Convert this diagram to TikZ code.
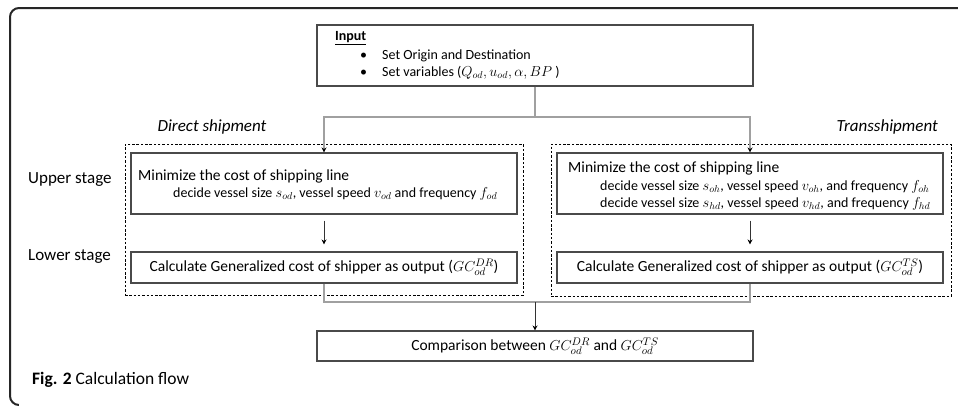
\documentclass[tikz,border=0pt]{standalone}
\usepackage{fontspec}
\setmainfont{Carlito}
\usetikzlibrary{arrows.meta}
\definecolor{boxgray}{HTML}{4A4A4A}
\definecolor{linegray}{HTML}{A0A0A0}
\begin{document}
\begin{tikzpicture}[x=1pt,y=-1pt,
  box/.style={draw=boxgray,line width=1.1pt,inner sep=0pt},
  dbox/.style={draw=black,dash pattern=on 2.5pt off 1.8pt,line width=0.9pt,inner sep=0pt},
  conn/.style={draw=linegray,line width=1.1pt},
  darrow/.style={draw=black!80,line width=0.8pt,-{Stealth[length=5pt,width=5pt,color=black]}},
  garrow/.style={conn,-{Stealth[length=5pt,width=5pt,color=black]}},
  main/.style={font=\fontsize{15.5}{18}\selectfont,inner sep=0pt},
  small/.style={font=\fontsize{14}{16}\selectfont,inner sep=0pt},
  inp/.style={font=\fontsize{14}{17}\selectfont,inner sep=0pt},
  side/.style={font=\fontsize{17}{20}\selectfont,inner sep=0pt},
  frame/.style={draw=black!85,line width=2pt,rounded corners=9pt}]
\useasboundingbox (0,0) rectangle (958,407);
% outer frame
\draw[frame] (962,8) -- (10,8) -- (10,405) -- (30,405);
\fill[white] (19,403.9) rectangle (40,408);
% boxes
\node[box,minimum width=436pt,minimum height=61pt] (in) at (535,55.5) {};
\node[dbox,minimum width=398pt,minimum height=151pt] (dl) at (324,219.5) {};
\node[dbox,minimum width=400pt,minimum height=152pt] (dr) at (751,220) {};
\node[box,minimum width=386pt,minimum height=61pt] (lu) at (324,183.5) {};
\node[box,minimum width=386pt,minimum height=61pt] (ru) at (750,183.5) {};
\node[box,minimum width=386pt,minimum height=31pt] (ll) at (324,267.5) {};
\node[box,minimum width=386pt,minimum height=31pt] (rl) at (750,267.5) {};
\node[box,minimum width=436pt,minimum height=30pt] (cmp) at (535,346) {};
% input text
\node[inp,anchor=west,font=\fontsize{14}{17}\selectfont\bfseries] (inT) at (335,38) {\underline{Input}};
\node[inp,anchor=west] (b1) at (360,56) {•};
\node[inp,anchor=west] (t1) at (382,56) {Set Origin and Destination};
\node[inp,anchor=west] (b2) at (360,73) {•};
\node[inp,anchor=west] (t2) at (382,73) {Set variables ($Q_{od},u_{od},\alpha,BP$~)};
% labels
\node[side,anchor=center,font=\fontsize{17}{20}\selectfont\itshape] (ds) at (212,127) {Direct shipment};
\node[side,anchor=east,font=\fontsize{17}{20}\selectfont\itshape] (ts) at (938,127) {Transshipment};
\node[side,anchor=west] (us) at (28,180) {Upper stage};
\node[side,anchor=west] (ls) at (28,257) {Lower stage};
% left upper text
\node[main,anchor=west] (lm) at (138,176) {Minimize the cost of shipping line};
\node[small,anchor=west] (ld) at (173,194) {decide vessel size $s_{od}$, vessel speed $v_{od}$ and frequency $f_{od}$};
% right upper text
\node[main,anchor=west] (rm) at (568,168) {Minimize the cost of shipping line};
\node[small,anchor=west] (rd1) at (600,187) {decide vessel size $s_{oh}$, vessel speed $v_{oh}$, and frequency $f_{oh}$};
\node[small,anchor=west] (rd2) at (600,204) {decide vessel size $s_{hd}$, vessel speed $v_{hd}$, and frequency $f_{hd}$};
% lower texts
\node[main] (lc) at (ll.center) {Calculate Generalized cost of shipper as output ($GC_{od}^{DR}$)};
\node[main] (rc) at (rl.center) {Calculate Generalized cost of shipper as output ($GC_{od}^{TS}$)};
\node[main] (ct) at (cmp.center) {Comparison between $GC_{od}^{DR}$ and $GC_{od}^{TS}$};
% caption
\node[anchor=west,inner sep=0pt,font=\fontsize{17.5}{20}\selectfont] (cap) at (32,380) {\textbf{Fig. 2} Calculation flow};
% connectors
\coordinate (sp) at (535,117);
\draw[conn] (in.south) -- (sp);
\draw[garrow] (sp) -| (lu.north);
\draw[garrow] (sp) -| (ru.north);
\draw[darrow] ([yshift=-6pt]lu.south) -- ([yshift=7pt]ll.north);
\draw[darrow] ([yshift=-6pt]ru.south) -- ([yshift=7pt]rl.north);
\coordinate (jl) at (324,302);
\coordinate (jr) at (750,302);
\coordinate (jm) at (535,302);
\draw[conn] (ll.south) -- (jl) -- (jr) -- (rl.south);
\draw[darrow] (jm) -- (cmp.north);
\end{tikzpicture}
\end{document}
